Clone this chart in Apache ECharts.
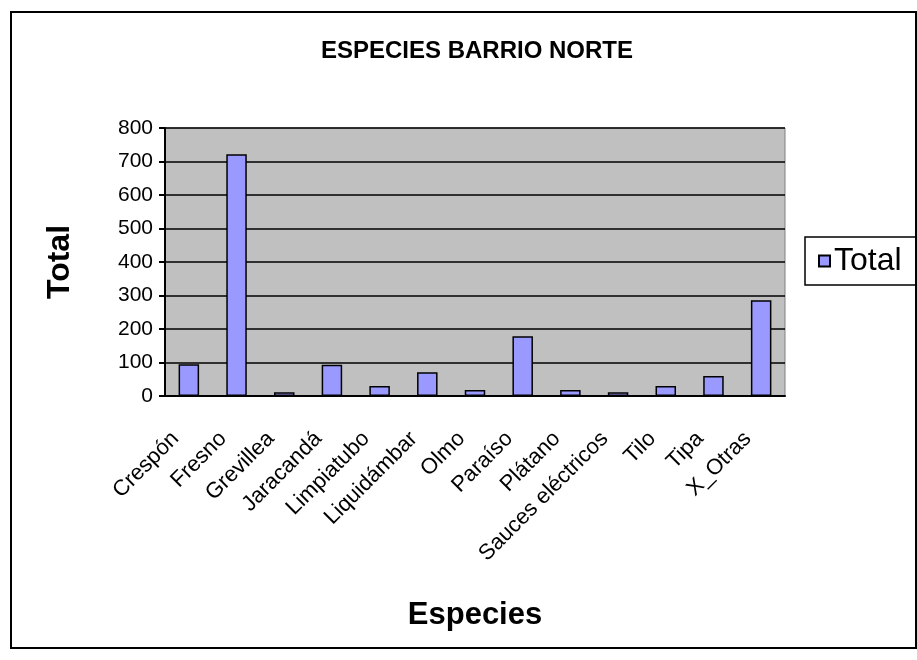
<!DOCTYPE html>
<html>
<head>
<meta charset="utf-8">
<script src="https://cdn.jsdelivr.net/npm/echarts@6/dist/echarts.min.js"></script>
<style>
  html, body { margin: 0; padding: 0; background: #fff; }
  #chart { width: 917px; height: 660px; }
</style>
</head>
<body>
<div id="chart"></div>
<script>
const especies = ['Crespón', 'Fresno', 'Grevillea', 'Jaracandá', 'Limpiatubo', 'Liquidámbar', 'Olmo',
  'Paraíso', 'Plátano', 'Sauces eléctricos', 'Tilo', 'Tipa', 'X_Otras']
const totales = [95, 722, 11, 93, 30, 71, 18, 178, 18, 11, 30, 60, 286]
const yTicks = [0, 100, 200, 300, 400, 500, 600, 700, 800]

const FONT = '"Liberation Sans", Arial, sans-serif'

const chart = echarts.init(document.getElementById('chart'))
chart.setOption({
  animation: false,
  textStyle: { fontFamily: FONT, color: '#000' },
  title: {
    text: 'ESPECIES BARRIO NORTE',
    left: 472,
    top: 34,
    textAlign: 'center',
    textStyle: { fontFamily: FONT, fontSize: 24, fontWeight: 'bold', color: '#000' }
  },
  graphic: [{
    type: 'rect',
    shape: { x: 11, y: 12, width: 905, height: 636 },
    style: { fill: 'none', stroke: '#000', lineWidth: 2 },
    z: 10
  }],
  legend: {
    left: 805,
    top: 237,
    orient: 'vertical',
    padding: [8, 60, 8, 13],
    borderColor: '#000',
    borderWidth: 1.5,
    itemWidth: 11,
    itemHeight: 11,
    itemGap: 0,
    icon: 'rect',
    textStyle: { fontFamily: FONT, fontSize: 32, color: '#000', padding: [0, 0, 0, -1] },
    data: ['Total']
  },
  grid: {
    left: 165,
    right: 132,
    top: 128,
    bottom: 264,
    show: true,
    backgroundColor: '#c0c0c0',
    borderColor: '#808080',
    borderWidth: 1
  },
  xAxis: {
    type: 'category',
    data: especies,
    name: 'Especies',
    nameLocation: 'middle',
    nameGap: 204,
    nameTextStyle: { fontFamily: FONT, fontSize: 31, fontWeight: 'bold', color: '#000' },
    axisLine: { lineStyle: { color: '#000', width: 2 } },
    axisTick: { length: 6, lineStyle: { color: '#000', width: 2 } },
    axisLabel: {
      rotate: 45,
      interval: 0,
      margin: 26,
      padding: [0, 19, 0, 0],
      fontFamily: FONT,
      fontSize: 22,
      color: '#000'
    }
  },
  yAxis: {
    type: 'value',
    min: yTicks[0],
    max: yTicks[yTicks.length - 1],
    interval: 100,
    name: 'Total',
    nameLocation: 'middle',
    nameGap: 89,
    nameTextStyle: { fontFamily: FONT, fontSize: 32, fontWeight: 'bold', color: '#000' },
    axisLine: { show: true, lineStyle: { color: '#000', width: 2 } },
    axisTick: { show: true, length: 6, lineStyle: { color: '#000', width: 2 } },
    axisLabel: { margin: 12, fontFamily: FONT, fontSize: 21, color: '#000' },
    splitLine: { lineStyle: { color: '#000', width: 1.5 } }
  },
  series: [{
    name: 'Total',
    type: 'bar',
    data: totales,
    barCategoryGap: '57%',
    itemStyle: { color: '#9999ff', borderColor: '#000', borderWidth: 1.5 }
  }]
})
</script>
</body>
</html>
